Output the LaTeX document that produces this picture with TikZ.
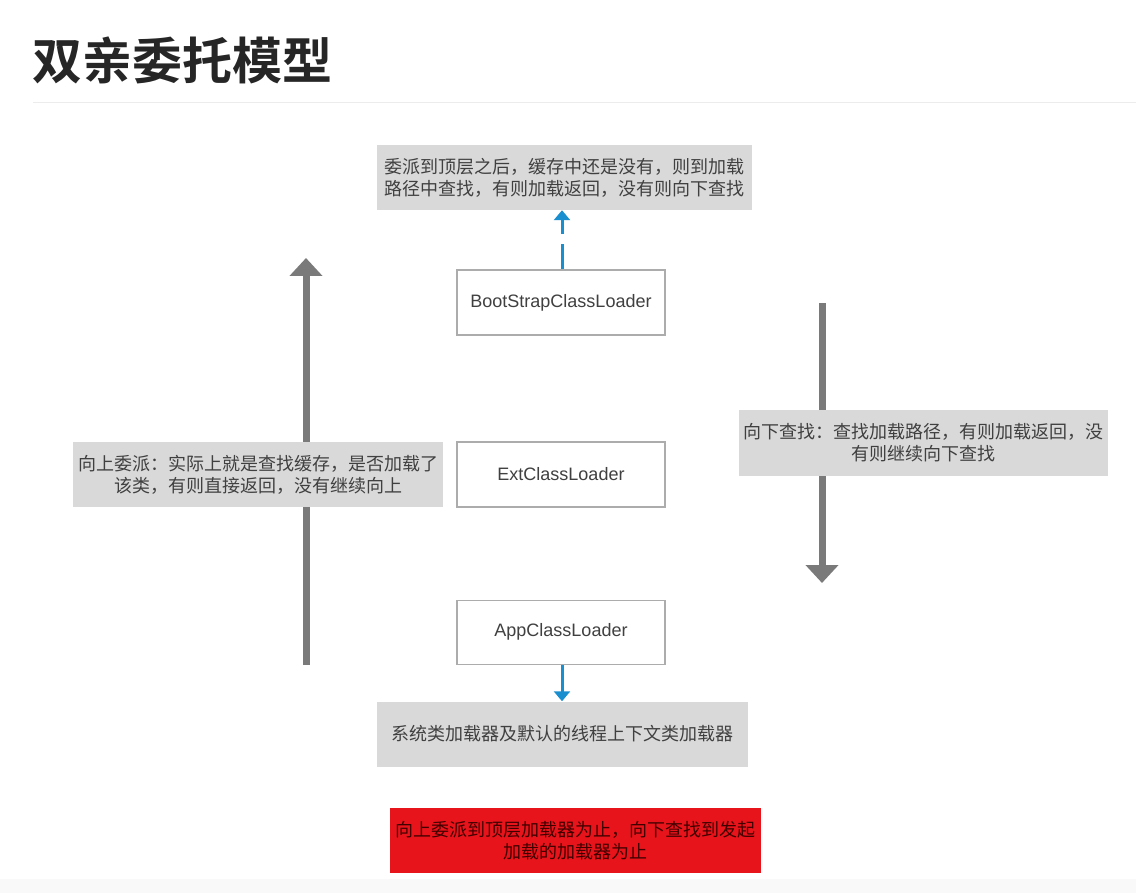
\documentclass[tikz,border=0pt]{standalone}
\usepackage{fontspec}
\setmainfont{Liberation Sans}
\newfontfamily\cjk{Noto Sans CJK SC}
\newfontfamily\cjkb{Noto Sans CJK SC Bold}
\usetikzlibrary{arrows.meta}
\definecolor{boxgray}{HTML}{D9D9D9}
\definecolor{txtgray}{HTML}{404040}
\definecolor{arrgray}{HTML}{7A7A7A}
\definecolor{blu}{HTML}{1A8FD0}
\definecolor{redbox}{HTML}{E8141B}
\begin{document}
\begin{tikzpicture}[x=1pt,y=-1pt,
  loader/.style={draw=gray!65,line width=1.5pt,fill=white,minimum width=208pt,minimum height=65pt,inner sep=0pt,font=\fontsize{18}{22}\selectfont,text=txtgray},
  note/.style={fill=boxgray,minimum height=65pt,inner sep=0pt,align=center,font=\cjk\fontsize{18}{22}\selectfont,text=txtgray},
  bigarrow/.style={draw=arrgray,line width=7pt,-{Triangle[width=32pt,length=18pt]}},
  bluearrow/.style={draw=blu,line width=3pt,-{Triangle[width=16pt,length=10pt]}}]
\useasboundingbox (0,0) rectangle (1136,893);
\fill[gray!5] (0,879) rectangle (1136,893);
\node[anchor=west,font=\cjkb\fontsize{50}{50}\selectfont,text=black!85,inner sep=0pt] (title) at (32,60) {双亲委托模型};
\draw[gray!15,line width=1pt] (33,103) -- (1136,103);
% big arrows (behind notes)
\coordinate (lfrom) at (306,665);
\coordinate (lto) at (306,258);
\coordinate (rfrom) at (822,303);
\coordinate (rto) at (822,583);
\draw[bigarrow] (lfrom) -- (lto);
\draw[bigarrow] (rfrom) -- (rto);
% loaders
\node[loader] (boot) at (561,302.5) {BootStrapClassLoader};
\node[loader] (ext) at (561,474.5) {ExtClassLoader};
\node[loader,minimum height=64pt] (app) at (561,632.3) {AppClassLoader};
% notes
\node[note,minimum width=375pt] (top) at (564.5,177.5) {委派到顶层之后，缓存中还是没有，则到加载\\路径中查找，有则加载返回，没有则向下查找};
\node[note,minimum width=371pt] (bottom) at (562.5,734) {系统类加载器及默认的线程上下文类加载器};
\node[note,minimum width=370pt] (left) at (258,474.5) {向上委派：实际上就是查找缓存，是否加载了\\该类，有则直接返回，没有继续向上};
\node[note,minimum width=369pt,minimum height=66pt] (right) at (923.5,443) {向下查找：查找加载路径，有则加载返回，没\\有则继续向下查找};
\node[note,fill=redbox,minimum width=371pt,text=black!75!red] (red) at (575.5,840.5) {向上委派到顶层加载器为止，向下查找到发起\\加载的加载器为止};
% blue arrows
\draw[bluearrow,dash pattern=on 25pt off 10pt] (boot.north -| 562,0) -- (top.south -| 562,0);
\draw[bluearrow] (app.south -| 562,0) -- (bottom.north -| 562,0);
\end{tikzpicture}
\end{document}
